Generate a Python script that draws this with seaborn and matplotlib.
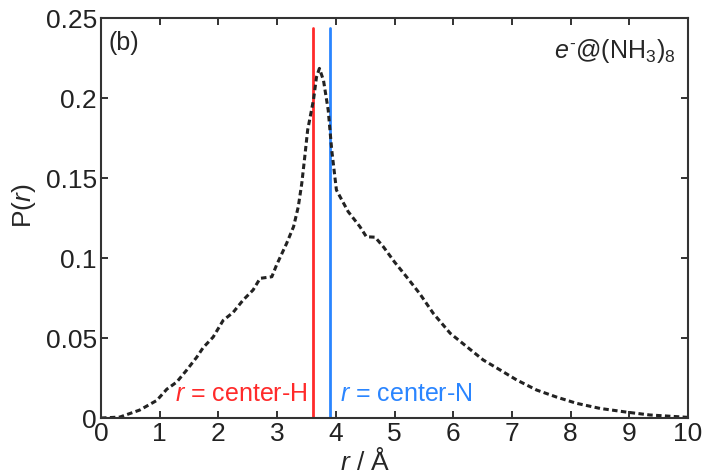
import numpy as np
import pandas as pd
import matplotlib
matplotlib.use("Agg")
import matplotlib.pyplot as plt
import seaborn as sns

sns.set_style("ticks")
plt.rcParams['font.family'] = ['Liberation Sans', 'DejaVu Sans']
plt.rcParams['mathtext.fontset'] = 'custom'
plt.rcParams['mathtext.rm'] = 'Liberation Sans'
plt.rcParams['mathtext.it'] = 'Liberation Sans:italic'

# radial distribution
r = [0.0, 0.32, 0.66, 0.95, 1.12, 1.29, 1.46, 1.63, 1.74, 1.91, 2.08, 2.25,
     2.42, 2.59, 2.71, 2.91, 2.99, 3.16, 3.28, 3.36, 3.42, 3.47, 3.52, 3.62,
     3.67, 3.72, 3.79, 3.87, 3.93, 4.01, 4.21, 4.41, 4.52, 4.67, 4.81, 5.0,
     5.21, 5.43, 5.66, 5.95, 6.23, 6.51, 6.80, 7.08, 7.42, 7.76, 8.10, 8.50,
     8.95, 9.35, 9.92, 10.0]
p = [0.0, 0.0006, 0.005, 0.011, 0.018, 0.0225, 0.030, 0.038, 0.044, 0.0506,
     0.061, 0.066, 0.0737, 0.080, 0.0873, 0.0883, 0.0956, 0.109, 0.1196, 0.132,
     0.1467, 0.163, 0.180, 0.199, 0.213, 0.2185, 0.211, 0.1925, 0.1675, 0.1425,
     0.129, 0.1196, 0.1133, 0.113, 0.107, 0.0975, 0.088, 0.0777, 0.0654, 0.0529,
     0.0446, 0.0363, 0.030, 0.0238, 0.0175, 0.0131, 0.0092, 0.006, 0.0037,
     0.0019, 0.0006, 0.0004]
r_center_h = 3.61
r_center_n = 3.90
line_top = 0.244

df = pd.DataFrame({"r": r, "P": p})

fig = plt.figure(figsize=(7.08, 4.74), dpi=100)
ax = fig.add_axes([0.1427, 0.1181, 0.8291, 0.8439])

red = "#ff2a2a"
blue = "#2a85ff"
ax.plot([r_center_h, r_center_h], [0, line_top], color=red, lw=2)
ax.plot([r_center_n, r_center_n], [0, line_top], color=blue, lw=2)

sns.lineplot(data=df, x="r", y="P", ax=ax, color="#222222", lw=2.2,
             linestyle=(0, (1.8, 1.1)))

ax.set_xlim(0, 10)
ax.set_ylim(0, 0.25)
ax.set_xticks(range(0, 11))
ax.set_yticks([0, 0.05, 0.1, 0.15, 0.2, 0.25])
ax.set_yticklabels(["0", "0.05", "0.1", "0.15", "0.2", "0.25"])
ax.tick_params(direction="in", length=5, width=1.3, top=True, right=True,
               labelsize=19, pad=3, colors="#222222")
for s in ax.spines.values():
    s.set_linewidth(1.5)
    s.set_color("#333333")

ax.set_xlabel(r"$\mathit{r}$ / Å", fontsize=19)
ax.xaxis.set_label_coords(0.45, -0.075, transform=ax.transAxes)
ax.xaxis.label.set_va("top")
ax.set_ylabel(r"P($\mathit{r}$)", fontsize=19)
ax.yaxis.set_label_coords(-0.108, 0.53, transform=ax.transAxes)

ax.text(0.12, 0.242, "(b)", fontsize=18, va="top", ha="left")
ax.text(9.78, 0.238, r"$\mathit{e}^{\text{-}}$@(NH$_3$)$_8$", fontsize=18,
        va="top", ha="right")
ax.text(3.51, 0.015, r"$\mathit{r}$ = center-H", fontsize=18, color=red,
        ha="right", va="center")
ax.text(4.07, 0.015, r"$\mathit{r}$ = center-N", fontsize=18, color=blue,
        ha="left", va="center")

fig.savefig("out.png", dpi=100)
